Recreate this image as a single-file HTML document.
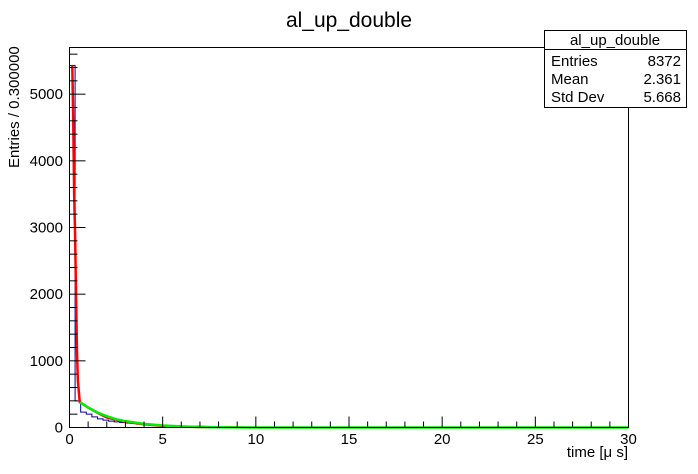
<!DOCTYPE html>
<html><head><meta charset="utf-8"><style>
body{margin:0;background:#fff;}
svg{display:block;font-family:"Liberation Sans",sans-serif;}
</style></head><body>
<svg id="c" width="698" height="474">
<text x="349" y="27" font-size="21" text-anchor="middle">al_up_double</text>
<g id="plot"></g>
<g>
<rect x="544.5" y="30.5" width="142" height="77" fill="#fff" stroke="#000"/>
<line x1="544.5" y1="49.5" x2="686.5" y2="49.5" stroke="#000"/>
<text x="615" y="45" font-size="15" text-anchor="middle">al_up_double</text>
<text x="551" y="66" font-size="15">Entries</text><text x="681" y="66" font-size="15" text-anchor="end">8372</text>
<text x="551" y="84" font-size="15">Mean</text><text x="681" y="84" font-size="15" text-anchor="end">2.361</text>
<text x="551" y="102" font-size="15">Std Dev</text><text x="681" y="102" font-size="15" text-anchor="end">5.668</text>
</g>
<text transform="translate(19,168) rotate(-90)" font-size="15">Entries / 0.300000</text>
<text x="628" y="457" font-size="15" text-anchor="end">time [μ s]</text>
</svg>
<script>
const binEdgesStart = 0, binWidth = 0.3;
const counts = [5430,400,230,200,160,130,110,95,85,75,65,60,50,45,40,38,34,30,28,25,22,20,18,16,14,13,12,11,10,9,8,8,7,7,6,6,5,5,5,4,4,4,3,3,3,3,2,2,2,2,2,2,1,1,1,1,1,1,1,1,1,1,1,1,1,1,1,1,1,1,1,1,1,1,1,1,1,1,1,1,1,1,1,1,1,1,1,1,1,1,1,1,1,1,1,1,1,1,1,1];
const redX = [0.15,0.2,0.25,0.3,0.35,0.4,0.45,0.55,1,1.5,2,3,4,5,6,7.5];
const redY = [5430,4600,3500,2900,2000,1150,700,380,300,220,150,85,48,25,13,5];
const greenX = [0.55,1,1.5,2,2.5,3,4,5,6,7,7.5,10,15,20,25,30];
const greenY = [380,300,225,170,125,95,55,30,16,8,5,0,0,0,0,0];
const xTicks = [0,5,10,15,20,25,30];
const yTicks = [0,1000,2000,3000,4000,5000];

const L=69.5,R=628.5,T=47.5,B=427.5,XMAX=30,YMAX=5700;
const sx=v=>L+(R-L)*v/XMAX, sy=v=>B-(B-T)*v/YMAX;
const NS='http://www.w3.org/2000/svg';
const g=document.getElementById('plot');
function mk(tag,attrs){const e=document.createElementNS(NS,tag);for(const k in attrs)e.setAttribute(k,attrs[k]);g.appendChild(e);return e;}

let d='M'+sx(0)+','+sy(0);
counts.forEach((c,i)=>{const x0=sx(binEdgesStart+i*binWidth),x1=sx(binEdgesStart+(i+1)*binWidth);d+=' L'+x0+','+sy(c)+' L'+x1+','+sy(c);});
const h=mk('path',{d:d,fill:'none',stroke:'#000099','stroke-width':1});



const red=mk('polyline',{points:redX.map((x,i)=>sx(x)+','+sy(redY[i])).join(' '),fill:'none',stroke:'#ff0000','stroke-width':2.5});


const green=mk('polyline',{points:greenX.map((x,i)=>sx(x)+','+sy(greenY[i])).join(' '),fill:'none',stroke:'#00ee00','stroke-width':2.5});



const fr=mk('rect',{x:L,y:T,width:R-L,height:B-T,fill:'none',stroke:'#000'});



for(let v=0;v<=XMAX;v+=1){const big=v%5===0;mk('line',{x1:sx(v),x2:sx(v),y1:B,y2:B-(big?11:6),stroke:'#000'});}
xTicks.forEach(v=>{const t=mk('text',{x:sx(v),y:444,'font-size':15,'text-anchor':'middle'});t.textContent=v;

});
for(let v=0;v<=YMAX;v+=200){const big=v%1000===0;mk('line',{x1:L,x2:L+(big?16:8),y1:sy(v),y2:sy(v),stroke:'#000'});}
yTicks.forEach(v=>{const t=mk('text',{x:63,y:sy(v)+5,'font-size':15,'text-anchor':'end'});t.textContent=v;

});
</script>
</body></html>
